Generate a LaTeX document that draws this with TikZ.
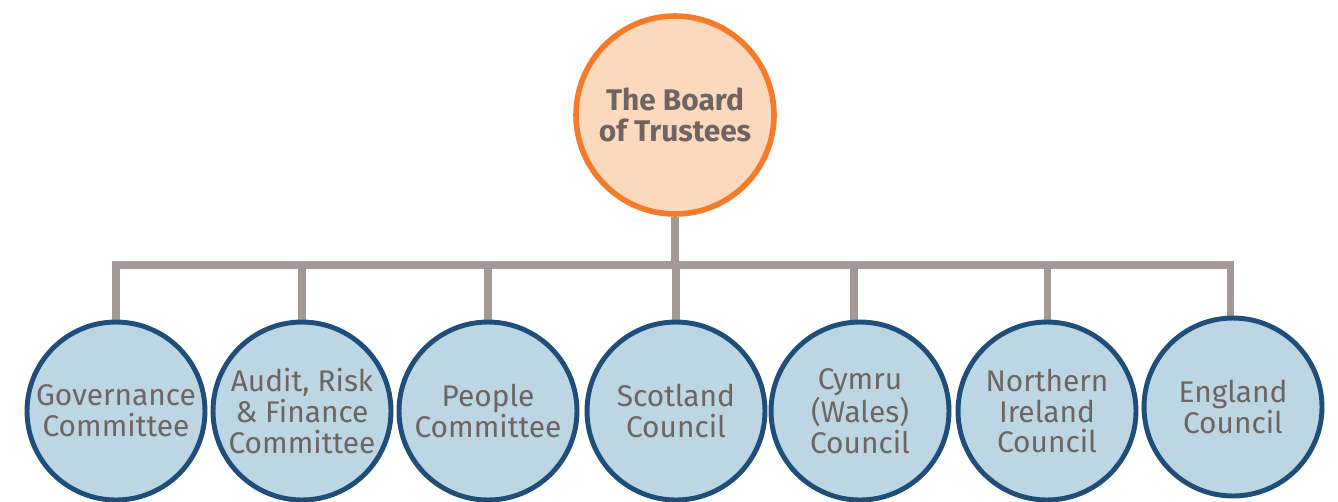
\documentclass[tikz,border=0pt]{standalone}
\usepackage{fontspec}
\setmainfont{Fira Sans}
\usepackage{tikz}
\usetikzlibrary{calc,backgrounds}

\definecolor{peach}{HTML}{FCD9BD}
\definecolor{tangerine}{HTML}{F47B2A}
\definecolor{paleblue}{HTML}{BCD7E3}
\definecolor{navy}{HTML}{1F4E7A}
\definecolor{stone}{HTML}{A39A97}
\definecolor{ink}{HTML}{6E6562}

\tikzset{
    board/.style={circle, draw=tangerine, fill=peach, line width=3.2pt,
        minimum size=3.96cm, inner sep=0pt, align=center, text=ink,
        font=\fontsize{17}{17.5}\selectfont\bfseries},
    member/.style={circle, draw=navy, fill=paleblue, line width=2.8pt,
        minimum size=3.56cm, inner sep=0pt, align=center, text=ink,
        font=\fontsize{17}{17.5}\selectfont},
    link/.style={draw=stone, line width=4pt}
}

\begin{document}
\begin{tikzpicture}[x=0.02cm,y=-0.02cm]
    %%Background
    \useasboundingbox (0,0) rectangle (1338,501);

    %% Top
    \node[board] (trustees) at (675,115) {The Board\\of Trustees};

    %% Committees and councils
    \node[member] (gov) at (116,411) {Governance\\Committee};
    \node[member] (audit) at (302,411) {Audit, Risk\\\& Finance\\Committee};
    \node[member] (people) at (488,411) {People\\Committee};
    \node[member] (scot) at (676,411) {Scotland\\Council};
    \node[member] (wales) at (860,411) {Cymru\\(Wales)\\Council};
    \node[member] (ni) at (1047,411) {Northern\\Ireland\\Council};
    \node[member] (eng) at (1233,407) {England\\Council};

    %% Lines
    \begin{scope}[on background layer]
    \coordinate (bar) at (675,265);
    \coordinate (wtop) at ($(wales.north)+(-6,0)$);
    \coordinate (etop) at ($(eng.north)+(-3,0)$);
    \draw[link] (gov.north) |- (bar) -| (etop);
    \draw[link] (trustees.south) -- (trustees.south |- bar);
    \foreach \n in {audit.north,people.north,scot.north,wtop,ni.north}
    {
    \draw[link] (\n) -- (\n |- bar);
    }
    \end{scope}

\end{tikzpicture}
\end{document}
